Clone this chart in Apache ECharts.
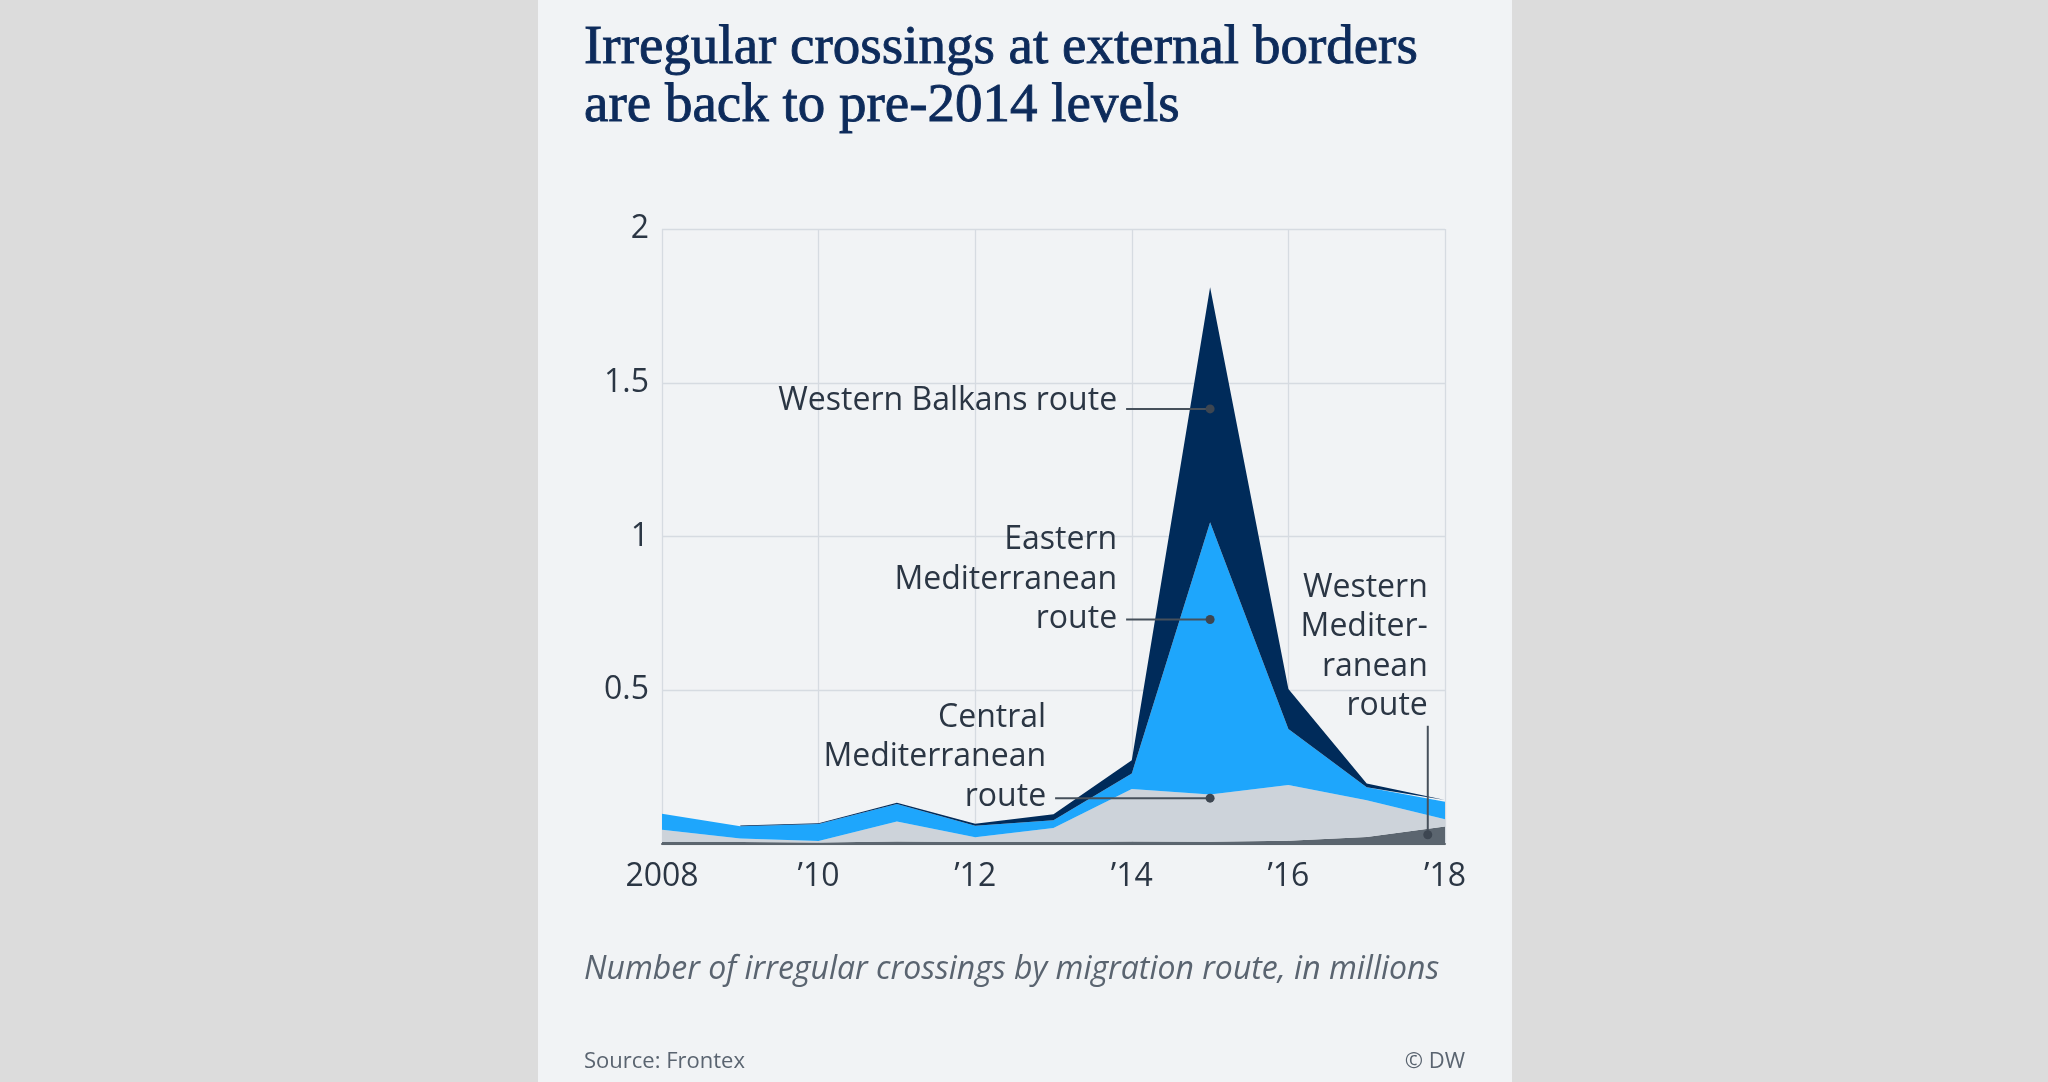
<!DOCTYPE html>
<html>
<head>
<meta charset="utf-8">
<script src="https://cdn.jsdelivr.net/npm/echarts@6/dist/echarts.min.js"></script>
<style>
  html, body { margin: 0; padding: 0; background: #dcdcdc; }
  #chart { width: 2048px; height: 1082px; }
</style>
</head>
<body>
<div id="chart"></div>
<script>
// years and crossings per route, in millions
var years = ['2008', '2009', '2010', '2011', '2012', '2013', '2014', '2015', '2016', '2017', '2018'];
var westMed = [0.0065, 0.0066, 0.0050, 0.0085, 0.0064, 0.0068, 0.0078, 0.0072, 0.0102, 0.0231, 0.0570];
var centralMed = [0.0398, 0.0110, 0.0045, 0.0643, 0.0159, 0.0453, 0.1707, 0.1540, 0.1815, 0.1190, 0.0235];
var eastMed = [0.0523, 0.0399, 0.0557, 0.0570, 0.0372, 0.0248, 0.0508, 0.8854, 0.1823, 0.0423, 0.0566];
var westBalkans = [null, 0.0024, 0.0024, 0.0047, 0.0064, 0.0200, 0.0434, 0.7640, 0.1303, 0.0122, 0.0059];
var yTicks = [0, 0.5, 1, 1.5, 2];

// route labels: where the pointer dot sits (year, millions)
var notes = [
  { lines: ['Western Balkans route'], at: [2015, 1.415], dir: 'left', gap: 84, dy: 0 },
  { lines: ['Eastern', 'Mediterranean', 'route'], at: [2015, 0.73], dir: 'left', gap: 84, dy: 7 },
  { lines: ['Central', 'Mediterranean', 'route'], at: [2015, 0.149], dir: 'left', gap: 155, dy: 6 },
  { lines: ['Western', 'Mediter-', 'ranean', 'route'], at: [2017.78, 0.03], dir: 'up', gap: 109, dy: -121 }
];

var textColor = '#2b3644';
var chart = echarts.init(document.getElementById('chart'));

function area(name, vals, color) {
  return {
    name: name,
    type: 'line',
    stack: 'routes',
    data: vals,
    symbol: 'none',
    silent: true,
    lineStyle: { width: 0 },
    itemStyle: { color: color },
    areaStyle: { color: color, opacity: 1 }
  };
}

var option = {
  backgroundColor: '#dcdcdc',
  animation: false,
  grid: { left: 662, top: 229, width: 783, height: 615 },
  xAxis: [
    {
      type: 'category',
      data: years,
      boundaryGap: false,
      axisLine: { show: true, lineStyle: { color: '#5b646c', width: 2 } },
      axisTick: { show: false },
      splitLine: { show: true, interval: 1, lineStyle: { color: '#d6dbe1', width: 1.3 } },
      axisLabel: {
        interval: 1,
        margin: 17,
        fontFamily: 'Open Sans',
        fontSize: 32,
        color: textColor,
        formatter: function (v) { return v === '2008' ? '2008' : '\u2019' + v.slice(2); }
      }
    },
    { type: 'value', min: 2008, max: 2018, show: false }
  ],
  yAxis: {
    type: 'value',
    min: yTicks[0],
    max: yTicks[yTicks.length - 1],
    interval: 0.5,
    axisLine: { show: false },
    axisTick: { show: false },
    splitLine: { lineStyle: { color: '#d6dbe1', width: 1.3 } },
    axisLabel: {
      margin: 13,
      fontFamily: 'Open Sans',
      fontSize: 32,
      color: textColor,
      formatter: function (v) { return v === 0 ? '' : String(v); }
    }
  },
  series: [
    area('Western Mediterranean route', westMed, '#5b656f'),
    area('Central Mediterranean route', centralMed, '#cdd3da'),
    area('Eastern Mediterranean route', eastMed, '#1ea6fc'),
    area('Western Balkans route', westBalkans, '#002b5a')
  ]
};
chart.setOption(option);

// panel, headings and route labels
var g = [
  { type: 'rect', shape: { x: 538, y: 0, width: 974, height: 1082 }, style: { fill: '#f1f3f5' }, z: -10, silent: true },
  {
    type: 'text', x: 584, y: 20, z: 10,
    style: {
      text: 'Irregular crossings at external borders\nare back to pre-2014 levels',
      font: '55px "Liberation Serif"', fill: '#0d2b5b', lineHeight: 58,
      stroke: '#0d2b5b', lineWidth: 0.9, verticalAlign: 'top'
    }
  },
  {
    type: 'text', x: 584, y: 970, z: 10,
    style: { text: 'Number of irregular crossings by migration route, in millions', font: 'italic 32px "Open Sans"', fill: '#5a6470', verticalAlign: 'middle' }
  },
  { type: 'text', x: 584, y: 1062, z: 10, style: { text: 'Source: Frontex', font: '22px "Open Sans"', fill: '#5a6470', verticalAlign: 'middle' } },
  { type: 'text', x: 1465, y: 1062, z: 10, style: { text: '\u00a9 DW', font: '22px "Open Sans"', fill: '#5a6470', align: 'right', verticalAlign: 'middle' } }
];

notes.forEach(function (n) {
  var px = chart.convertToPixel({ xAxisIndex: 1 }, n.at[0]);
  var py = chart.convertToPixel({ yAxisIndex: 0 }, n.at[1]);
  var tx, baseY, line;
  if (n.dir === 'left') {
    tx = px - n.gap - 9;
    baseY = py + n.dy;
    line = { x1: px - n.gap, y1: py, x2: px, y2: py };
  } else {
    tx = px;
    baseY = py + n.dy;
    line = { x1: px, y1: py - n.gap, x2: px, y2: py };
  }
  g.push({ type: 'line', shape: line, style: { stroke: '#46505b', lineWidth: 2 }, z: 20, silent: true });
  g.push({ type: 'circle', shape: { cx: px, cy: py, r: 4.5 }, style: { fill: '#3d4651' }, z: 21, silent: true });
  var last = n.lines.length - 1;
  n.lines.forEach(function (t, i) {
    g.push({
      type: 'text', x: tx, y: baseY - (last - i) * 39.5 - 7.5, z: 22, silent: true,
      style: { text: t, font: '32px "Open Sans"', fill: textColor, align: 'right', verticalAlign: 'middle' }
    });
  });
});

chart.setOption({ graphic: g });
</script>
</body>
</html>
